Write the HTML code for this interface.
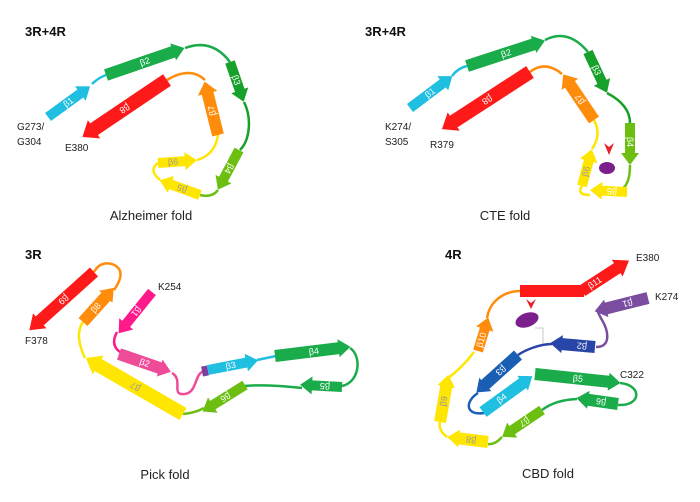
<!DOCTYPE html>
<html><head><meta charset="utf-8"><style>
html,body{margin:0;padding:0;background:#fff;}
svg{display:block;font-family:"Liberation Sans",sans-serif;}
.l{fill:none;stroke-width:2.5;}
.t{font-size:9px;fill:#fff;}
.g{font-size:9px;fill:#999;}
.lab{font-size:10px;fill:#222;}
.hd{font-size:13px;font-weight:bold;fill:#111;}
.cap{font-size:13px;fill:#222;text-anchor:middle;}
</style></head><body>
<svg width="700" height="502" viewBox="0 0 700 502">
<!-- Panel 1 -->
<text class="hd" x="25" y="36">3R+4R</text>
<path class="l" stroke="#1ebfe0" d="M92,84 Q98,78 106,75"/>
<path class="l" stroke="#1aab4a" d="M185,48 Q212,38 230,62"/>
<path class="l" stroke="#17a02a" d="M244,102 C252,118 250,140 240,150"/>
<path class="l" stroke="#6cbf10" d="M218,190 Q212,198 200,195"/>
<path class="l" stroke="#ffe600" d="M160,180 Q148,170 158,163"/>
<path class="l" stroke="#ffe600" d="M197,160 Q215,155 218,135"/>
<path class="l" stroke="#ff8c0a" d="M205,80 Q190,66 167,80"/>
<g transform="translate(48,117) rotate(-36)"><polygon fill="#1ebfe0" points="0,-5 40,-5 40,-9 52,0 40,9 40,5 0,5"/><text class="t" x="20" y="3">β1</text></g>
<g transform="translate(106,75) rotate(-19)"><polygon fill="#1aab4a" points="0,-6 71,-6 71,-9 83,0 71,9 71,6 0,6"/><text class="t" x="36" y="3">β2</text></g>
<g transform="translate(230,62) rotate(71)"><polygon fill="#17a02a" points="0,-5 30,-5 30,-9 42,0 30,9 30,5 0,5"/><text class="t" x="14" y="3">β3</text></g>
<g transform="translate(239,150) rotate(118)"><polygon fill="#6cbf10" points="0,-5 33,-5 33,-9 45,0 33,9 33,5 0,5"/><text class="t" x="16" y="3">β4</text></g>
<g transform="translate(200,195) rotate(200)"><polygon fill="#ffe600" points="0,-5 31,-5 31,-9 43,0 31,9 31,5 0,5"/><text class="g" x="14" y="3">β5</text></g>
<g transform="translate(158,163) rotate(-4)"><polygon fill="#ffe600" points="0,-5 27,-5 27,-9 39,0 27,9 27,5 0,5"/><text class="g" x="10" y="3">β6</text></g>
<g transform="translate(218,135) rotate(-104)"><polygon fill="#ff8c0a" points="0,-6 43,-6 43,-10 55,0 43,10 43,6 0,6"/><text class="t" x="20" y="3">β7</text></g>
<g transform="translate(167,80) rotate(146)"><polygon fill="#ff1a1a" points="0,-7 88,-7 88,-11 102,0 88,11 88,7 0,7"/><text class="t" x="46" y="3">β8</text></g>
<text class="lab" x="17" y="130">G273/</text>
<text class="lab" x="17" y="145">G304</text>
<text class="lab" x="65" y="151">E380</text>
<text class="cap" x="151" y="220">Alzheimer fold</text>

<!-- Panel 2 -->
<text class="hd" x="365" y="36">3R+4R</text>
<path class="l" stroke="#1ebfe0" d="M452,76 Q458,68 467,66"/>
<path class="l" stroke="#1aab4a" d="M545,40 Q568,28 588,52"/>
<path class="l" stroke="#17a02a" d="M607,93 Q630,105 630,123"/>
<path class="l" stroke="#6cbf10" d="M630,165 Q630,186 620,190"/>
<path class="l" stroke="#ffe600" d="M590,195 Q576,195 582,186"/>
<path class="l" stroke="#ffe600" d="M592,149 Q602,135 594,120"/>
<path class="l" stroke="#ff8c0a" d="M562,74 Q545,60 530,72"/>
<g transform="translate(410,108) rotate(-37)"><polygon fill="#1ebfe0" points="0,-5 41,-5 41,-9 53,0 41,9 41,5 0,5"/><text class="t" x="20" y="3">β1</text></g>
<g transform="translate(467,66) rotate(-18)"><polygon fill="#1aab4a" points="0,-6 70,-6 70,-9 82,0 70,9 70,6 0,6"/><text class="t" x="36" y="3">β2</text></g>
<g transform="translate(588,52) rotate(65)"><polygon fill="#17a02a" points="0,-5 33,-5 33,-9 45,0 33,9 33,5 0,5"/><text class="t" x="15" y="3">β3</text></g>
<g transform="translate(630,123) rotate(90)"><polygon fill="#6cbf10" points="0,-5 30,-5 30,-9 42,0 30,9 30,5 0,5"/><text class="t" x="14" y="3">β4</text></g>
<g transform="translate(627,192) rotate(183)"><polygon fill="#ffe600" points="0,-5 25,-5 25,-9 37,0 25,9 25,5 0,5"/><text class="t" x="10" y="3">β5</text></g>
<g transform="translate(582,186) rotate(-75)"><polygon fill="#ffe600" points="0,-5 26,-5 26,-9 38,0 26,9 26,5 0,5"/><text class="g" x="10" y="3">β6</text></g>
<g transform="translate(594,120) rotate(-124)"><polygon fill="#ff8c0a" points="0,-6 43,-6 43,-10 55,0 43,10 43,6 0,6"/><text class="t" x="20" y="3">β7</text></g>
<g transform="translate(530,72) rotate(147)"><polygon fill="#ff1a1a" points="0,-7 91,-7 91,-11 105,0 91,11 91,7 0,7"/><text class="t" x="46" y="3">β8</text></g>
<polygon fill="#e8202a" points="604,143 609,147 614,143 609,155"/>
<ellipse cx="607" cy="168" rx="8" ry="6" fill="#7b1f8c"/>
<text class="lab" x="385" y="130">K274/</text>
<text class="lab" x="385" y="145">S305</text>
<text class="lab" x="430" y="148">R379</text>
<text class="cap" x="505" y="220">CTE fold</text>

<!-- Panel 3 -->
<text class="hd" x="25" y="259">3R</text>
<path class="l" stroke="#ff1a8c" d="M117,332 Q110,345 120,352"/>
<path class="l" stroke="#ee4c98" d="M172,373 C184,380 170,396 185,394 C198,392 194,372 205,371"/>
<path class="l" stroke="#1ebfe0" d="M257,360 L276,356"/>
<path class="l" stroke="#1aab4a" d="M350,348 C362,356 360,382 342,386"/>
<path class="l" stroke="#1aab4a" d="M302,388 Q265,384 245,386"/>
<path class="l" stroke="#6cbf10" d="M204,408 Q195,413 183,414"/>
<path class="l" stroke="#ffe600" d="M85,358 Q74,335 83,322"/>
<path class="l" stroke="#ff8c0a" d="M114,290 Q128,270 112,264 Q100,261 94,272"/>
<g transform="translate(152,292) rotate(129)"><polygon fill="#ff1a8c" points="0,-5 41,-5 41,-9 53,0 41,9 41,5 0,5"/><text class="t" x="20" y="3">β1</text></g>
<g transform="translate(119,354) rotate(19)"><polygon fill="#ee4c98" points="0,-6 43,-6 43,-9 55,0 43,9 43,6 0,6"/><text class="t" x="22" y="3">β2</text></g>
<rect x="202" y="366" width="6" height="10" fill="#7b3fa0" transform="rotate(-11 205 371)"/>
<g transform="translate(208,370) rotate(-11)"><polygon fill="#1ebfe0" points="0,-5 39,-5 39,-9 51,0 39,9 39,5 0,5"/><text class="t" x="18" y="3">β3</text></g>
<g transform="translate(275,356) rotate(-7)"><polygon fill="#1aab4a" points="0,-6 64,-6 64,-9 76,0 64,9 64,6 0,6"/><text class="t" x="34" y="3">β4</text></g>
<g transform="translate(342,387) rotate(183)"><polygon fill="#1aab4a" points="0,-5 30,-5 30,-9 42,0 30,9 30,5 0,5"/><text class="t" x="12" y="3">β5</text></g>
<g transform="translate(245,385) rotate(148)"><polygon fill="#6cbf10" points="0,-5 38,-5 38,-9 50,0 38,9 38,5 0,5"/><text class="t" x="18" y="3">β6</text></g>
<g transform="translate(183,414) rotate(-150)"><polygon fill="#ffe600" points="0,-7 98,-7 98,-11 112,0 98,11 98,7 0,7"/><text class="g" x="50" y="3">β7</text></g>
<g transform="translate(83,322) rotate(-48)"><polygon fill="#ff8c0a" points="0,-6 34,-6 34,-9 46,0 34,9 34,6 0,6"/><text class="t" x="14" y="3">β8</text></g>
<g transform="translate(94,272) rotate(138)"><polygon fill="#ff1a1a" points="0,-6 73,-6 73,-10 87,0 73,10 73,6 0,6"/><text class="t" x="36" y="3">β9</text></g>
<text class="lab" x="158" y="290">K254</text>
<text class="lab" x="25" y="344">F378</text>
<text class="cap" x="165" y="479">Pick fold</text>

<!-- Panel 4 -->
<text class="hd" x="445" y="259">4R</text>
<path class="l" stroke="#ff8c0a" d="M521,291 C505,291 490,300 487,318"/>
<path class="l" stroke="#ffe600" d="M447,379 Q462,368 474,352"/>
<path class="l" stroke="#ffe600" d="M447,437 Q438,430 440,422"/>
<path class="l" stroke="#6cbf10" d="M502,437 Q495,445 488,444"/>
<path class="l" stroke="#1aab4a" d="M577,399 Q555,400 542,410"/>
<path class="l" stroke="#1aab4a" d="M620,383 C642,385 642,406 618,405"/>
<path class="l" stroke="#1a5fb4" d="M478,393 C464,402 466,416 484,413"/>
<path class="l" stroke="#2845a8" d="M552,344 C540,344 525,350 518,355"/>
<path class="l" stroke="#7b4da0" d="M596,347 C612,347 608,330 602,320 C597,311 596,309 600,309"/>
<path fill="none" stroke="#bbb" stroke-width="0.8" d="M535,328 L543,328 L543,343"/>
<rect x="520" y="285" width="64" height="12" fill="#ff1a1a"/>
<g transform="translate(582,291) rotate(-33)"><polygon fill="#ff1a1a" points="0,-6 42,-6 42,-10 56,0 42,10 42,6 0,6"/><text class="t" x="8" y="3">β11</text></g>
<g transform="translate(478,351) rotate(-73)"><polygon fill="#ff8c0a" points="0,-5 23,-5 23,-9 35,0 23,9 23,5 0,5"/><text class="t" x="4" y="3">β10</text></g>
<g transform="translate(440,422) rotate(-80)"><polygon fill="#ffe600" points="0,-6 36,-6 36,-9 48,0 36,9 36,6 0,6"/><text class="g" x="16" y="3">β9</text></g>
<g transform="translate(488,442) rotate(187)"><polygon fill="#ffe600" points="0,-6 29,-6 29,-9 41,0 29,9 29,6 0,6"/><text class="g" x="12" y="3">β8</text></g>
<g transform="translate(542,410) rotate(146)"><polygon fill="#6cbf10" points="0,-5 36,-5 36,-9 48,0 36,9 36,5 0,5"/><text class="t" x="16" y="3">β7</text></g>
<g transform="translate(618,404) rotate(188)"><polygon fill="#1aab4a" points="0,-6 30,-6 30,-9 42,0 30,9 30,6 0,6"/><text class="t" x="12" y="3">β6</text></g>
<g transform="translate(535,374) rotate(6)"><polygon fill="#1aab4a" points="0,-6 74,-6 74,-9 86,0 74,9 74,6 0,6"/><text class="t" x="38" y="3">β5</text></g>
<g transform="translate(483,412) rotate(-36)"><polygon fill="#1ebfe0" points="0,-6 49,-6 49,-9 61,0 49,9 49,6 0,6"/><text class="t" x="18" y="3">β4</text></g>
<g transform="translate(518,355) rotate(138)"><polygon fill="#1a5fb4" points="0,-6 44,-6 44,-9 56,0 44,9 44,6 0,6"/><text class="t" x="18" y="3">β3</text></g>
<g transform="translate(595,347) rotate(185)"><polygon fill="#2845a8" points="0,-6 33,-6 33,-9 45,0 33,9 33,6 0,6"/><text class="t" x="8" y="3">β2</text></g>
<g transform="translate(648,298) rotate(166)"><polygon fill="#7b4da0" points="0,-6 43,-6 43,-9 55,0 43,9 43,6 0,6"/><text class="t" x="16" y="3">β1</text></g>
<polygon fill="#e8202a" points="526,299 531,303 536,299 531,309"/>
<ellipse cx="527" cy="320" rx="12" ry="7" fill="#7b1f8c" transform="rotate(-20 527 320)"/>
<text class="lab" x="636" y="261">E380</text>
<text class="lab" x="655" y="300">K274</text>
<text class="lab" x="620" y="378">C322</text>
<text class="cap" x="548" y="478">CBD fold</text>
</svg>
</body></html>
